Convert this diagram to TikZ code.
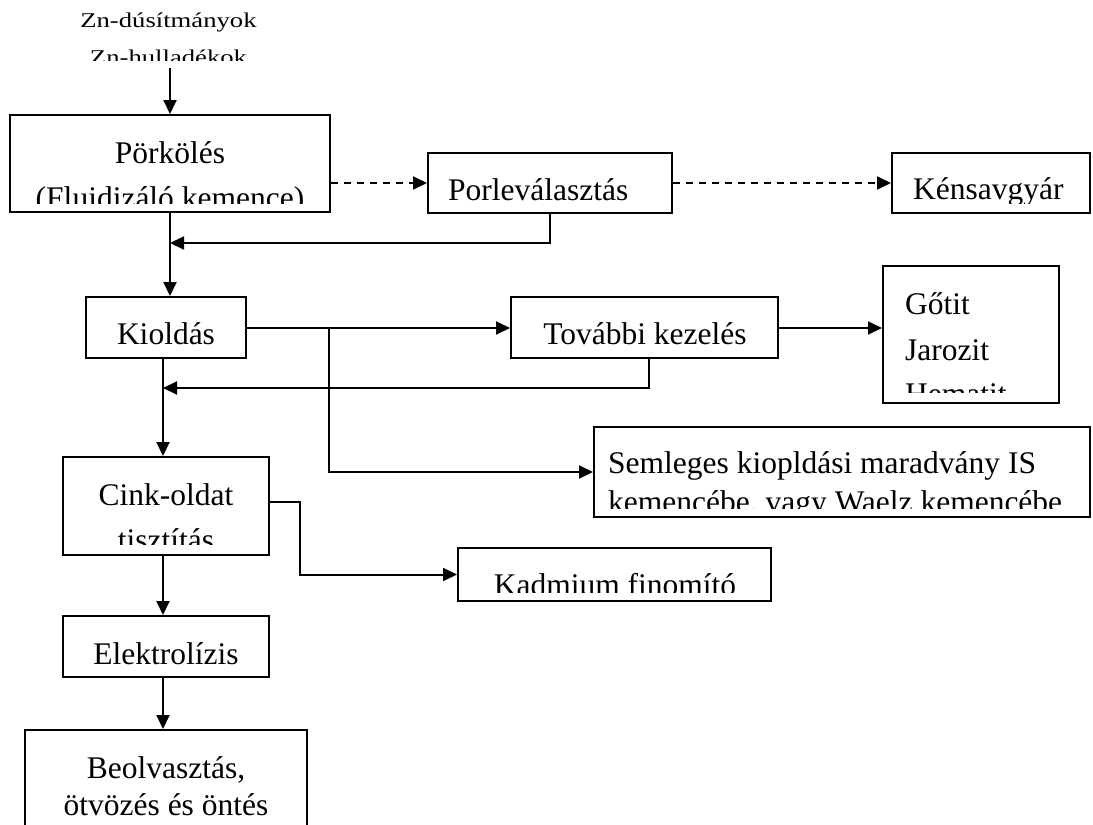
\documentclass[tikz,border=0pt]{standalone}
\usepackage{fontspec}
\setmainfont{Liberation Serif}
\usetikzlibrary{arrows.meta}
\begin{document}
\begin{tikzpicture}[x=1pt,y=-1pt,
  box/.style={draw,line width=2pt,rectangle,inner sep=0pt},
  txt/.style={font=\fontsize{31.5}{38}\selectfont,inner sep=0pt,anchor=base},
  ltxt/.style={txt,anchor=base west},
  link/.style={line width=2pt,-{Triangle[length=14pt,width=13pt]}},
  dashlink/.style={link,dash pattern=on 7pt off 6pt}]
\useasboundingbox (0,0) rectangle (1093,825);
\clip (0,0) rectangle (1093,825);

% process boxes
\node[box,minimum width=320pt,minimum height=97pt] (pork)  at (170,163.5) {};
\node[box,minimum width=244pt,minimum height=60pt] (porl)  at (550,183) {};
\node[box,minimum width=198pt,minimum height=60pt] (kens)  at (991,183) {};
\node[box,minimum width=160pt,minimum height=61pt] (kiol)  at (166,327.5) {};
\node[box,minimum width=267pt,minimum height=61pt] (tovab) at (644.5,327.5) {};
\node[box,minimum width=176pt,minimum height=137pt] (gotit) at (971,334.5) {};
\node[box,minimum width=496pt,minimum height=90pt] (seml)  at (842,472) {};
\node[box,minimum width=206pt,minimum height=98pt] (cink)  at (166,506) {};
\node[box,minimum width=313pt,minimum height=53pt] (kadm)  at (614.5,574.5) {};
\node[box,minimum width=206pt,minimum height=61pt] (elek)  at (166,646.5) {};
\node[box,minimum width=282pt,minimum height=100pt] (beol) at (166,780) {};

% feed material
\node[inner sep=0pt,anchor=base] (zn1) at (168.5,27)
  {\scalebox{1.27}[1]{\fontsize{21}{25}\selectfont Zn-dúsítmányok}};
\begin{scope}
  \clip (0,0) rectangle (1093,60);
  \node[inner sep=0pt,anchor=base] (zn2) at (168.5,64)
    {\scalebox{1.27}[1]{\fontsize{21}{25}\selectfont Zn-hulladékok}};
\end{scope}

% box texts
\node[txt] (t1) at (170,163) {Pörkölés};
\begin{scope}
  \clip (0,0) rectangle (1093,203);
  \node[txt] (t2) at (170,208) {(Fluidizáló kemence)};
\end{scope}
\node[ltxt] (t3) at (448,200) {Porleválasztás};
\begin{scope}
  \clip (0,0) rectangle (1093,203);
  \node[ltxt] (t4) at (913,199) {Kénsavgyár};
\end{scope}
\node[txt] (t5) at (166,344) {Kioldás};
\node[txt] (t6) at (645,344) {További kezelés};
\node[ltxt] (t7) at (905,314) {Gőtit};
\node[ltxt] (t8) at (905,360) {Jarozit};
\begin{scope}
  \clip (0,0) rectangle (1093,392);
  \node[ltxt] (t9) at (905,404) {Hematit};
\end{scope}
\node[ltxt] (t10) at (608,473) {Semleges kiopldási maradvány IS};
\begin{scope}
  \clip (0,0) rectangle (1093,508);
  \node[ltxt] (t11) at (608,512) {kemencébe, vagy Waelz kemencébe};
\end{scope}
\node[txt] (t12) at (166,505) {Cink-oldat};
\begin{scope}
  \clip (0,0) rectangle (1093,544);
  \node[txt] (t13) at (166,550) {tisztítás};
\end{scope}
\begin{scope}
  \clip (0,0) rectangle (1093,592);
  \node[txt] (t14) at (615,595) {Kadmium finomító};
\end{scope}
\node[txt] (t15) at (166,664) {Elektrolízis};
\node[txt] (t16) at (166,778) {Beolvasztás,};
\node[txt] (t17) at (166,815) {ötvözés és öntés};

% junction points
\coordinate (feed) at (170,68);
\coordinate (j1) at (170,243);
\coordinate (j2) at (163,388);
\coordinate (b1) at (329,328);

% connectors
\draw[link] (feed) -- (pork.north);
\draw[dashlink] (pork.east |- porl.west) -- (porl.west);
\draw[dashlink] (porl.east) -- (kens.west);
\draw[link] (porl.south) |- (j1);
\draw[link] (pork.south) -- (pork.south |- kiol.north);
\draw[link] (kiol.east |- b1) -- (tovab.west |- b1);
\draw[link] (b1) |- (seml.west);
\draw[link] (tovab.east |- b1) -- (gotit.west |- b1);
\draw[link] ([xshift=4.5pt]tovab.south) |- (j2);
\draw[link] (kiol.south -| j2) -- (cink.north -| j2);
\draw[link] ([yshift=4pt]cink.east) -- ++(30,0) |- (kadm.west);
\draw[link] (cink.south -| j2) -- (elek.north -| j2);
\draw[link] (elek.south -| j2) -- (beol.north -| j2);
\end{tikzpicture}
\end{document}
